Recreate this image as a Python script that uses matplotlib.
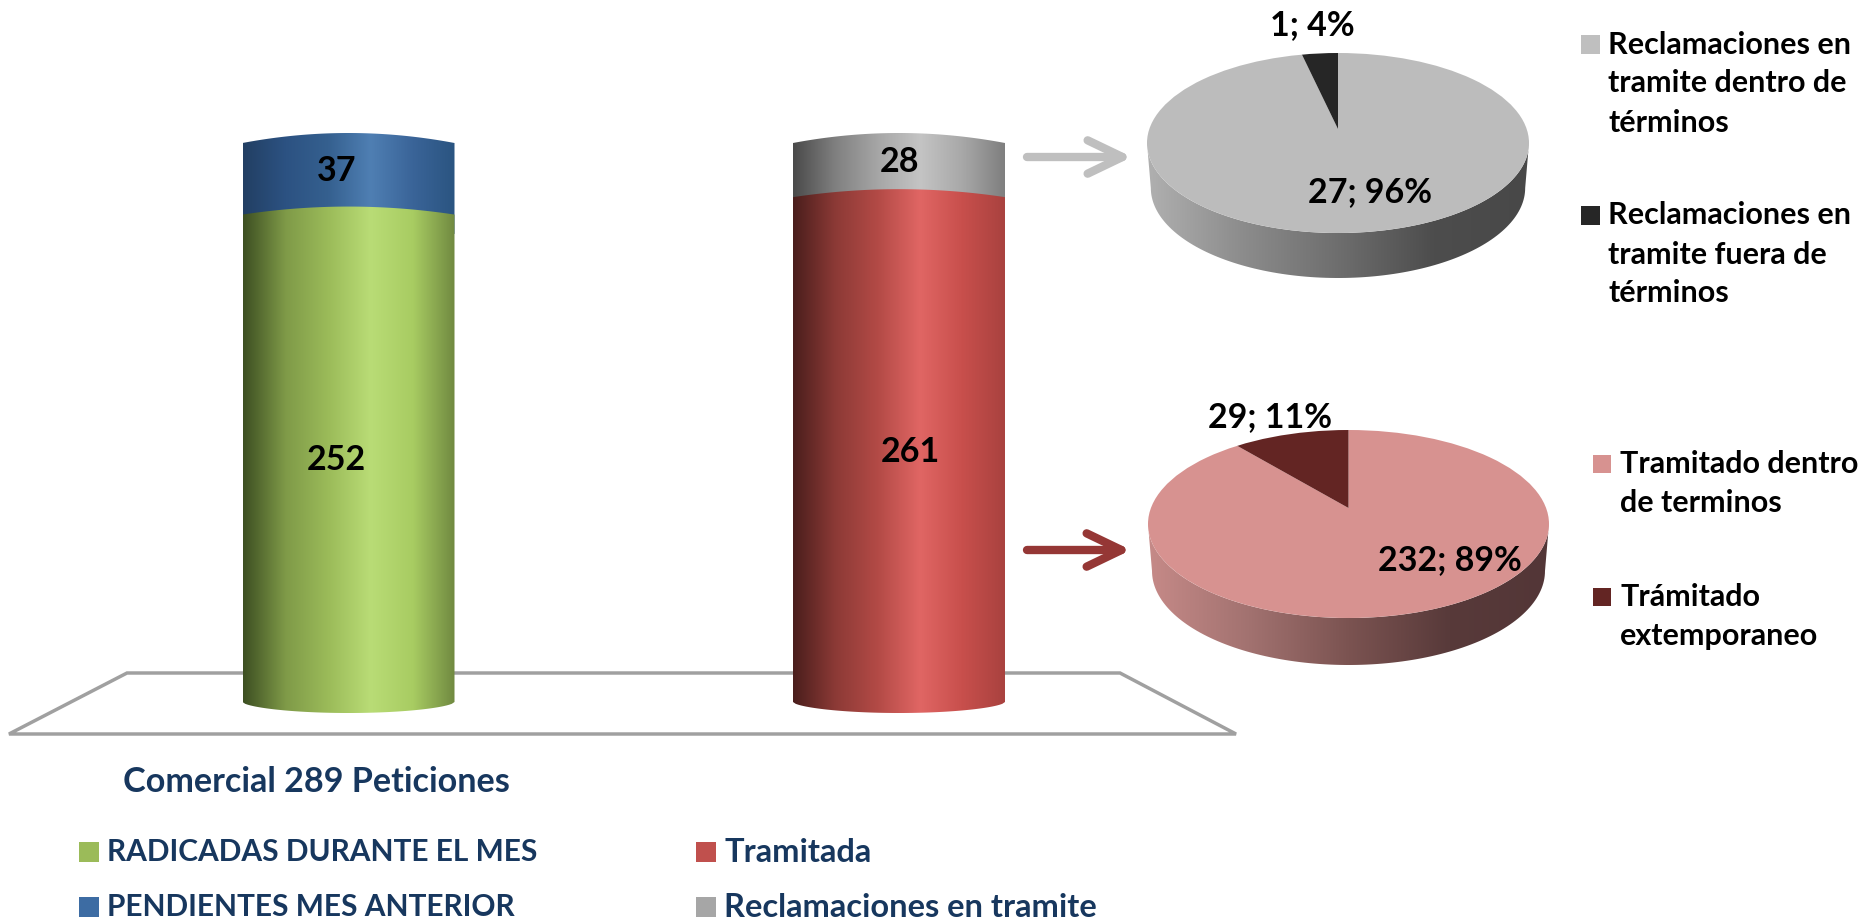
"""
Comercial 289 peticiones: cylinders and tilted pies
"""
import numpy as np
import matplotlib
matplotlib.use("Agg")
import matplotlib.pyplot as plt
from matplotlib.colors import LinearSegmentedColormap
from matplotlib.patches import Ellipse, Polygon, Rectangle

plt.rcParams['font.family'] = ['Lato', 'DejaVu Sans']
plt.rcParams['font.weight'] = 'bold'

W, H = 1860, 922
NAVY = '#17375e'
LABEL_FS = 24.5
SIDE_FS = 22

categories = ['Radicadas / Pendientes', 'Tramitada / En tramite']
lower_values = [252, 261]
upper_values = [37, 28]
bar_title = 'Comercial 289 Peticiones'
legend_left = ['RADICADAS DURANTE EL MES', 'PENDIENTES MES ANTERIOR']
legend_right = ['Tramitada', 'Reclamaciones en tramite']
pie1_values = [27, 1]
pie1_labels = ['27; 96%', '1; 4%']
pie1_legend = ['Reclamaciones en\ntramite dentro de\ntérminos', 'Reclamaciones en\ntramite fuera de\ntérminos']
pie2_values = [232, 29]
pie2_labels = ['232; 89%', '29; 11%']
pie2_legend = ['Tramitado dentro\nde terminos', 'Trámitado\nextemporaneo']


def px_axes(fig, x0, y0, x1, y1):
    # axes placed by reference pixels (y measured from the top)
    return fig.add_axes([x0 / W, 1 - y1 / H, (x1 - x0) / W, (y1 - y0) / H])


def shade(colors):
    return LinearSegmentedColormap.from_list('s', colors)


def gradient(ax, patch, extent, cmap):
    grad = np.linspace(0, 1, 256).reshape(1, -1)
    im = ax.imshow(grad, extent=extent, cmap=cmap, aspect='auto', zorder=patch.get_zorder(),
                   interpolation='bilinear')
    ax.add_patch(patch)
    patch.set_facecolor('none')
    patch.set_edgecolor('none')
    im.set_clip_path(patch)


def cyl_segment(ax, x, bottom, top, half, bottom_bow, top_bow, cmap, zorder):
    # side of a cylinder between two values, both edges bowed by the given amounts
    t = np.linspace(-1, 1, 80)
    xs = x + half * t
    low = bottom + bottom_bow * (1 - t ** 2) ** 0.6
    up = top + top_bow * (1 - t ** 2)
    verts = np.column_stack([np.r_[xs, xs[::-1]], np.r_[low, up[::-1]]])
    patch = Polygon(verts, closed=True, zorder=zorder)
    ext_low = min(low.min(), up.min()) - 2
    ext_up = max(low.max(), up.max()) + 2
    gradient(ax, patch, [x - half, x + half, ext_low, ext_up], cmap)


def tilted_pie(fig, box, depth, values, colors, wall_cmap, tip_shift):
    # box is the top face in pixels, the wall hangs depth pixels below it
    x0, y0, x1, y1 = box
    wall = px_axes(fig, x0, y0, x1, y1 + depth)
    wall.axis('off')
    cx, cy = (x0 + x1) / 2, (y0 + y1) / 2
    rx, ry = (x1 - x0) / 2, (y1 - y0) / 2
    t = np.linspace(0, np.pi, 120)
    top_x = cx + rx * np.cos(t)
    top_y = cy + ry * np.sin(t)
    low_x = cx + 0.98 * rx * np.cos(t)
    verts = np.column_stack([np.r_[top_x, low_x[::-1]], np.r_[top_y, top_y[::-1] + depth]])
    patch = Polygon(verts, closed=True, zorder=1)
    grad = np.linspace(0, 1, 256).reshape(1, -1)
    im = wall.imshow(grad, extent=[x0, x1, y1 + depth, cy], cmap=wall_cmap, aspect='auto', zorder=1)
    wall.add_patch(patch)
    patch.set_facecolor('none')
    patch.set_edgecolor('none')
    im.set_clip_path(patch)
    wall.set_xlim(x0, x1)
    wall.set_ylim(y1 + depth, y0)
    top = px_axes(fig, x0, y0, x1, y1)
    top.patch.set_alpha(0)
    wedges, _ = top.pie(values, colors=colors, startangle=90, counterclock=False,
                        radius=1.5, center=(0, tip_shift))
    top.set_aspect('auto')
    top.set_xlim(-1, 1)
    top.set_ylim(-1, 1)
    face = Ellipse((0, 0), 2, 2, transform=top.transData, facecolor='none', edgecolor='none')
    top.add_patch(face)
    for wedge in wedges:
        wedge.set_clip_on(True)
        wedge.set_clip_path(face)


fig = plt.figure(figsize=(W / 100, H / 100), dpi=100, facecolor='white')

# overlay in reference pixels for the floor
over = fig.add_axes([0, 0, 1, 1], zorder=0)
over.set_xlim(0, W)
over.set_ylim(H, 0)
over.axis('off')
over.add_patch(Polygon([[127, 673], [1120, 673], [1236, 734], [9, 734]], closed=True,
                       facecolor='white', edgecolor='#a0a0a0', lw=2.5))

# cylinders: value axis 0..289 spans the side height, x axis in category units
ax = px_axes(fig, 0, 0, W, H)
ax.set_zorder(1)
ax.patch.set_alpha(0)
axis_bottom_px, axis_top_px = 702, 143
px_per_val = (axis_bottom_px - axis_top_px) / 289
ax.set_ylim(-(H - axis_bottom_px) / px_per_val, axis_bottom_px / px_per_val)
ax.set_xlim(0, W / 550)
ax.axis('off')
half = 106 / 550
xpos = [348.5 / 550, 899 / 550]
back_bow = 10 / px_per_val
front_bow = -11 / px_per_val
seam_bow = 8 / px_per_val

green = shade(['#3d4f22', '#7f9a48', '#9bbb59', '#b9dc76', '#a8cc62', '#6f8840'])
blue = shade(['#223f63', '#2c5282', '#35608f', '#4f7fb3', '#3a6498', '#2a5480'])
red = shade(['#4a1e1c', '#8c3a36', '#b34a46', '#e06664', '#c84f4c', '#a9423f'])
gray = shade(['#4a4a4a', '#808080', '#a6a6a6', '#c4c4c4', '#a8a8a8', '#7f7f7f'])
lower_maps = [green, red]
upper_maps = [blue, gray]
lower_dx = [-12, 11]
upper_dx = [-12, 0]

for i, cat in enumerate(categories):
    low, up = lower_values[i], upper_values[i]
    cyl_segment(ax, xpos[i], low - 10, low + up, half, 0, back_bow, upper_maps[i], 2)
    cyl_segment(ax, xpos[i], 0, low, half, front_bow, seam_bow, lower_maps[i], 3)
    ax.text(xpos[i] + lower_dx[i] / 550, low * 0.5 - 1, str(low), ha='center', va='center',
            fontsize=LABEL_FS, color='black', zorder=5)
    ax.text(xpos[i] + upper_dx[i] / 550, low + up * 0.5 + 4, str(up), ha='center', va='center',
            fontsize=LABEL_FS, color='black', zorder=5)

# pies
tilted_pie(fig, (1147, 53, 1529, 233), 45, pie1_values, ['#bcbcbc', '#262626'],
           shade(['#b0b0b0', '#8c8c8c', '#6e6e6e', '#4d4d4d', '#484848']), 0.155)
tilted_pie(fig, (1148, 430, 1549, 618), 47, pie2_values, ['#d79290', '#632523'],
           shade(['#c68a88', '#a27270', '#7b5351', '#583a3a', '#533637']), 0.17)

front = fig.add_axes([0, 0, 1, 1], zorder=5)
front.set_xlim(0, W)
front.set_ylim(H, 0)
front.axis('off')
front.patch.set_alpha(0)

# pie data labels
front.text(1312, 25, pie1_labels[1], ha='center', va='center', fontsize=LABEL_FS)
front.text(1370, 192, pie1_labels[0], ha='center', va='center', fontsize=LABEL_FS)
front.text(1270, 417, pie2_labels[1], ha='center', va='center', fontsize=LABEL_FS)
front.text(1450, 560, pie2_labels[0], ha='center', va='center', fontsize=LABEL_FS)

# arrows
front.annotate('', xy=(1132, 157), xytext=(1027, 157),
               arrowprops=dict(arrowstyle='->,head_length=2.5,head_width=1.2', mutation_scale=10,
                               color='#bfbfbf', lw=6, shrinkA=0, shrinkB=0))
front.annotate('', xy=(1131, 550), xytext=(1027, 550),
               arrowprops=dict(arrowstyle='->,head_length=2.5,head_width=1.2', mutation_scale=10,
                               color='#953735', lw=6, shrinkA=0, shrinkB=0))


def legend_entry(x, y, color, label, size, tcolor, box, text_x):
    front.add_patch(Rectangle((x, y - box / 2), box, box, facecolor=color, edgecolor='none'))
    front.text(text_x, y, label, ha='left', va='center', fontsize=size, color=tcolor)


front.text(123, 782, bar_title, ha='left', va='center', fontsize=24.6, color=NAVY)
legend_entry(79, 852, '#9bbb59', legend_left[0], 21.5, NAVY, 20, 107)
legend_entry(79, 907, '#3d6ca3', legend_left[1], 21.5, NAVY, 20, 107)
legend_entry(696, 852, '#c0504d', legend_right[0], 23.5, NAVY, 20, 724)
legend_entry(696, 907, '#a6a6a6', legend_right[1], 23.5, NAVY, 20, 724)

first, second, third = pie1_legend[0].split('\n')
legend_entry(1581, 45, '#bfbfbf', first, SIDE_FS, 'black', 19, 1608)
front.text(1608, 83, second, va='center', fontsize=SIDE_FS)
front.text(1608, 123, third, va='center', fontsize=SIDE_FS)
first, second, third = pie1_legend[1].split('\n')
legend_entry(1581, 215, '#262626', first, SIDE_FS, 'black', 19, 1608)
front.text(1608, 255, second, va='center', fontsize=SIDE_FS)
front.text(1608, 293, third, va='center', fontsize=SIDE_FS)
first, second = pie2_legend[0].split('\n')
legend_entry(1593, 464, '#d79290', first, SIDE_FS, 'black', 18, 1620)
front.text(1620, 503, second, va='center', fontsize=SIDE_FS)
first, second = pie2_legend[1].split('\n')
legend_entry(1593, 597, '#632523', first, SIDE_FS, 'black', 18, 1620)
front.text(1620, 636, second, va='center', fontsize=SIDE_FS)

fig.savefig('out.png', dpi=100)
